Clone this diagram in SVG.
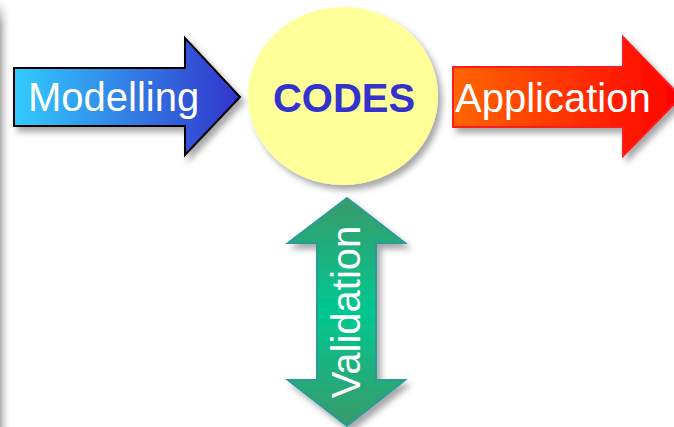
<svg xmlns="http://www.w3.org/2000/svg" width="674" height="427" viewBox="0 0 674 427">
<defs>
<linearGradient id="gBlue" x1="0" y1="0" x2="1" y2="0"><stop offset="0" stop-color="#33ccff"/><stop offset="1" stop-color="#3333cc"/></linearGradient>
<linearGradient id="gRed" x1="0" y1="0" x2="1" y2="0"><stop offset="0" stop-color="#ff6600"/><stop offset="1" stop-color="#ff0000"/></linearGradient>
<linearGradient id="gGreen" x1="0" y1="0" x2="0" y2="1"><stop offset="0" stop-color="#3a9a6a"/><stop offset="0.5" stop-color="#00c890"/><stop offset="1" stop-color="#3a9a6a"/></linearGradient>
<linearGradient id="gEdge" x1="0" y1="0" x2="1" y2="0"><stop offset="0" stop-color="#aaaaaa"/><stop offset="1" stop-color="#ffffff" stop-opacity="0"/></linearGradient>
<linearGradient id="gEdgeV" x1="0" y1="0" x2="0" y2="1"><stop offset="0" stop-color="#fff" stop-opacity="1"/><stop offset="0.06" stop-color="#fff" stop-opacity="0"/></linearGradient>
<filter id="sh" x="-20%" y="-20%" width="150%" height="150%"><feDropShadow dx="4" dy="5" stdDeviation="3" flood-color="#000" flood-opacity="0.35"/></filter>
</defs>
<style>
.lbl{font-family:"Liberation Sans",Arial,sans-serif;font-size:40px;fill:#ffffff}
.codes{font-family:"Liberation Sans",Arial,sans-serif;font-size:40px;font-weight:bold;fill:#3333cc}
</style>
<rect width="674" height="427" fill="#ffffff"/>
<rect x="0" y="0" width="12" height="427" fill="url(#gEdge)"/>
<rect x="0" y="0" width="12" height="427" fill="url(#gEdgeV)"/>
<g id="connectors">
<g id="modelling">
<path d="M14,68 H185 V38 L240,97 L185,155 V126 H14 Z" fill="url(#gBlue)" stroke="#000" stroke-width="2" filter="url(#sh)"/>
<text class="lbl" x="28" y="111">Modelling</text>
</g>
<g id="application">
<path d="M453,67 H623 V37 L681,97 L623,156 V127 H453 Z" fill="url(#gRed)" stroke="#ff1a1a" stroke-width="2" filter="url(#sh)"/>
<text class="lbl" x="455" y="112">Application</text>
</g>
<g id="validation">
<path d="M347,198 L405,243 H376 V380 H405 L347,426 L288,380 H317 V243 H288 Z" fill="url(#gGreen)" stroke="#2a9a9a" stroke-width="2" filter="url(#sh)"/>
<text class="lbl" x="0" y="0" transform="translate(360,312) rotate(-90)" text-anchor="middle">Validation</text>
</g>
</g>
<g id="codes">
<ellipse cx="343" cy="96" rx="95" ry="89" fill="#ffff99" filter="url(#sh)"/>
<text class="codes" x="344" y="112" text-anchor="middle">CODES</text>
</g>
</svg>
